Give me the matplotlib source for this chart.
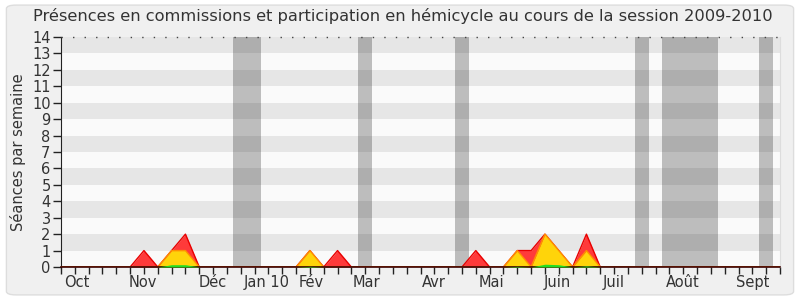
import matplotlib
matplotlib.use('Agg')
import matplotlib.pyplot as plt
from matplotlib.patches import FancyBboxPatch

# Weekly values, session 2009-2010 (week 0 .. 52)
weeks = list(range(53))
hemicycle = [0, 0, 0, 0, 0, 0, 1, 0, 1, 2, 0, 0, 0, 0, 0, 0, 0, 0, 1, 0,
             1, 0, 0, 0, 0, 0, 0, 0, 0, 0, 1, 0, 0, 1, 1, 2, 1, 0, 2, 0,
             0, 0, 0, 0, 0, 0, 0, 0, 0, 0, 0, 0, 0]
commission = [0, 0, 0, 0, 0, 0, 0, 0, 1, 1, 0, 0, 0, 0, 0, 0, 0, 0, 1, 0,
              0, 0, 0, 0, 0, 0, 0, 0, 0, 0, 0, 0, 0, 1, 0, 2, 1, 0, 1, 0,
              0, 0, 0, 0, 0, 0, 0, 0, 0, 0, 0, 0, 0]
interventions = [0, 0, 0, 0, 0, 0, 0, 0, 0.14, 0.14, 0, 0, 0, 0, 0, 0, 0, 0, 0.04, 0,
                 0, 0, 0, 0, 0, 0, 0, 0, 0, 0, 0, 0, 0, 0.04, 0, 0.17, 0.14, 0, 0.07, 0,
                 0, 0, 0, 0, 0, 0, 0, 0, 0, 0, 0, 0, 0]

# parliamentary holidays (start week, end week)
vacances = [(12.45, 14.5), (21.5, 22.5), (28.5, 29.5), (41.5, 42.5), (43.5, 47.5), (50.5, 51.5)]

month_labels = ['Oct', 'Nov', 'Déc', 'Jan 10', 'Fév', 'Mar', 'Avr', 'Mai', 'Juin', 'Juil', 'Août', 'Sept']
month_pos = [1.15, 5.95, 11.0, 14.9, 18.1, 22.1, 27.0, 31.1, 35.9, 40.0, 45.0, 50.0]

TXT = '#333333'
plt.rcParams['font.family'] = ['DejaVu Sans']

fig = plt.figure(figsize=(8, 3), dpi=100)
fig.patch.set_facecolor('white')
bg = FancyBboxPatch((0.008, 0.017), 0.984, 0.966,
                    boxstyle='round,pad=0,rounding_size=0.012',
                    transform=fig.transFigure, facecolor='#f0f0f0',
                    edgecolor='#dddddd', linewidth=1, zorder=-10)
fig.add_artist(bg)

ax = fig.add_axes([0.07625, 0.11, 0.89875, 0.7667])
ax.set_zorder(1)
ax.set_facecolor('#fafafa')

for a, b in vacances:
    ax.axvspan(a, b, color='#bdbdbd', lw=0, zorder=1)
for y0 in range(1, 14, 2):
    ax.axhspan(y0, y0 + 1, color='black', alpha=0.08, lw=0, zorder=2)

ax.fill_between(weeks, 0, hemicycle, color='#ff3a3a', lw=0, zorder=3)
ax.plot(weeks, hemicycle, color='#e80000', lw=1, zorder=3)
ax.fill_between(weeks, 0, commission, color='#ffd40a', lw=0, zorder=4)
ax.plot(weeks, commission, color='#ff9000', lw=1, zorder=4)
ax.fill_between(weeks, 0, interventions, color='#22dd22', lw=0, zorder=8)

ax.plot([0, 52], [14, 14], color='#444444', lw=1, ls=(0, (1, 7.3)), zorder=6, clip_on=False)

ax.set_xlim(0, 52)
ax.set_ylim(0, 14)
ax.set_yticks(range(15))
ax.set_xticks(weeks)
ax.set_xticklabels([])
for pos, lab in zip(month_pos, month_labels):
    ax.text(pos, -0.035, lab, transform=ax.get_xaxis_transform(), ha='center', va='top',
            fontsize=10.5, color=TXT)
ax.tick_params(axis='x', length=5, width=1, color='#222222')
ax.tick_params(axis='y', length=6, width=1, color='#222222', pad=1.5, labelsize=10.5, labelcolor=TXT)

ax.spines['top'].set_visible(False)
ax.spines['right'].set_color('#dddddd')
ax.spines['left'].set_color('#222222')
ax.spines['bottom'].set_color('#3a0000')
ax.spines['bottom'].set_linewidth(1.2)
ax.spines['bottom'].set_zorder(7)

ax.set_ylabel('Séances par semaine', fontsize=10.5, color=TXT, labelpad=4)
fig.text(0.503, 0.945, 'Présences en commissions et participation en hémicycle au cours de la session 2009-2010',
         ha='center', va='center', fontsize=11.7, color=TXT)

fig.savefig('out.png', dpi=100, facecolor=fig.get_facecolor())
